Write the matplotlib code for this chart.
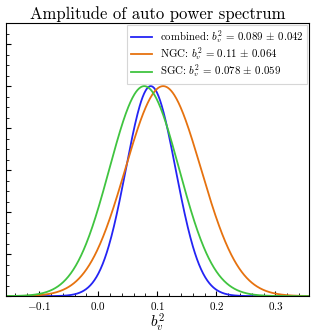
import numpy as np
import matplotlib
matplotlib.use("Agg")
import matplotlib.pyplot as plt
from matplotlib.ticker import AutoMinorLocator, MultipleLocator

# ----- Fonts (Computer Modern look) -----
plt.rcParams['font.family'] = 'serif'
plt.rcParams['font.serif'] = ['cmr10']
plt.rcParams['mathtext.fontset'] = 'cm'
plt.rcParams['axes.formatter.use_mathtext'] = True

# ----- Data (from legend) -----
labels = ['combined', 'NGC', 'SGC']
means = [0.089, 0.11, 0.078]
sigmas = [0.042, 0.064, 0.059]
mean_txt = ['0.089', '0.11', '0.078']
sigma_txt = ['0.042', '0.064', '0.059']
colors = ['#2424f4', '#e6720f', '#40c440']

x = np.linspace(-0.16, 0.36, 600)

fig = plt.figure(figsize=(3.17, 3.35), dpi=100)
ax = fig.add_axes([0.019, 0.116, 0.956, 0.815])

for lab, m, s, mt, st, c in zip(labels, means, sigmas, mean_txt, sigma_txt, colors):
    # normalised Gaussian posterior (peak = 1)
    y = np.exp(-0.5 * ((x - m) / s) ** 2)
    ax.plot(x, y, color=c, lw=1.3,
            label=lab + r': $b_v^2\,=\,' + mt + r'\,\pm\,' + st + '$')

ax.set_xlim(-0.156, 0.357)
ax.set_ylim(0, 1.3)
ax.xaxis.set_major_locator(MultipleLocator(0.1))
ax.xaxis.set_minor_locator(AutoMinorLocator(5))
ax.yaxis.set_major_locator(MultipleLocator(0.2))
ax.yaxis.set_minor_locator(AutoMinorLocator(4))
ax.tick_params(which='both', direction='in', labelsize=8, right=False, top=False, pad=2.5)
ax.tick_params(which='major', length=3.5)
ax.tick_params(which='minor', length=2)
ax.set_yticklabels([])
ax.set_xlabel(r'$b_v^2$', fontsize=11, labelpad=0)
ax.set_title('Amplitude of auto power spectrum', fontsize=12, pad=3)

leg = ax.legend(loc='upper right', fontsize=7.8, frameon=True, fancybox=False,
                borderaxespad=0.2, handlelength=2.0, labelspacing=0.0,
                borderpad=0.3, handletextpad=0.7)
leg.get_frame().set_edgecolor('#cccccc')
leg.get_frame().set_linewidth(0.8)

fig.savefig('out.png', dpi=100)
